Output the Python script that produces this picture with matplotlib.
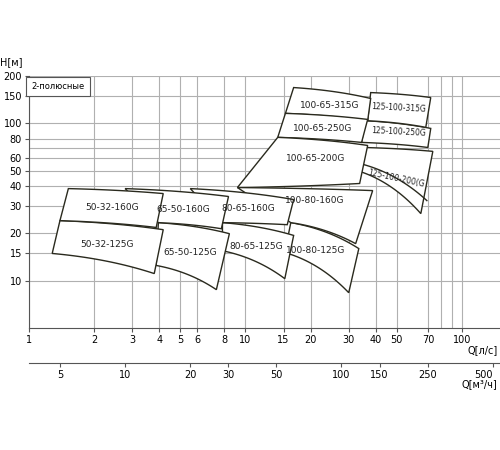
import numpy as np
import matplotlib
matplotlib.use("Agg")
import matplotlib.pyplot as plt
from matplotlib.patches import Polygon

plt.rcParams['font.family'] = ['DejaVu Sans']

# Tiles: name, TL, TR, BR, BL in (Q l/s, H m)
tiles = [
    ("50-32-160G", (1.52, 38.5), (4.17, 35.8), (3.87, 21.8), (1.39, 24.1)),
    ("50-32-125G", (1.39, 24.1), (4.17, 21.1), (3.79, 11.1), (1.28, 14.9)),
    ("65-50-160G", (2.78, 38.5), (8.35, 34.3), (7.74, 21.4), (3.96, 23.4)),
    ("65-50-125G", (3.96, 23.4), (8.43, 19.9), (7.34, 8.77), (3.87, 12.5)),
    ("80-65-160G", (5.56, 38.5), (16.7, 32.8), (15.6, 22.7), (7.83, 23.4)),
    ("80-65-125G", (7.83, 23.4), (16.7, 19.4), (15.2, 10.3), (7.83, 15.5)),
    ("100-80-160G", (9.18, 39.1), (38.7, 37.4), (32.3, 17.2), (16.2, 23.4)),
    ("100-80-125G", (16.2, 23.4), (33.4, 16.0), (30.0, 8.39), (15.2, 15.1)),
    ("100-65-200G", (14.1, 81.5), (36.7, 72.4), (33.7, 41.5), (9.18, 39.1)),
    ("100-65-250G", (15.3, 115.8), (36.7, 106), (34.4, 75.7), (14.1, 81.5)),
    ("100-65-315G", (16.7, 169), (37.9, 144), (36.7, 104), (15.3, 115.8)),
    ("125-100-315G", (37.9, 157), (71.8, 146), (68.1, 94.4), (36.7, 104)),
    ("125-100-250G", (35.9, 104), (71.8, 92.9), (69.6, 70.3), (34.4, 75.7)),
    ("125-100-200(G", (34.8, 70.3), (73.4, 66.4), (64.6, 26.7), (33.0, 50.0)),
]
label_pos = {"125-100-200(G": (49.5, 44.6, -12), "125-100-315G": (51, 125, -3),
             "125-100-250G": (51, 88, -3), "100-80-160G": (21, 32.3, 0),
             "100-65-200G": (21, 59.8, 0), "100-80-125G": (21, 15.5, 0)}
inner_curve = [(33.7, 55.6), (68.9, 32.3)]

yticks = [10, 15, 20, 30, 40, 50, 60, 80, 100, 150, 200]
ygrid = [10, 15, 20, 30, 40, 50, 60, 70, 80, 100, 150, 200]
xticks = [1, 2, 3, 4, 5, 6, 8, 10, 15, 20, 30, 40, 50, 70, 100]
xgrid = [1, 2, 3, 4, 5, 6, 8, 10, 15, 20, 30, 40, 50, 70, 80, 90, 100]
m3h_ticks = [5, 10, 20, 30, 50, 100, 150, 250, 500]

def edge(p0, p1, n=30):
    a = np.log10(p0); b = np.log10(p1)
    c = np.array([a[0] + 0.55 * (b[0] - a[0]), a[1] + 0.25 * (b[1] - a[1])])
    t = np.linspace(0, 1, n)[:, None]
    pts = (1 - t) ** 2 * a + 2 * (1 - t) * t * c + t ** 2 * b
    return 10 ** pts

fig = plt.figure(figsize=(5, 4.5), dpi=100)
ax = fig.add_axes([0.058, 0.271, 0.942, 0.56])
ax.set_xscale('log'); ax.set_yscale('log')
ax.set_xlim(1, 150); ax.set_ylim(5, 200)
for g in xgrid:
    ax.axvline(g, color='#b0b0b0', lw=0.8, zorder=0)
for g in ygrid:
    ax.axhline(g, color='#b0b0b0', lw=0.8, zorder=0)
ax.set_xticks(xticks); ax.set_xticklabels([str(v) for v in xticks], fontsize=7)
ax.set_yticks(yticks); ax.set_yticklabels([str(v) for v in yticks], fontsize=7)
ax.minorticks_off()
ax.tick_params(length=3, pad=2, color='#555')
for s in ['top', 'right']:
    ax.spines[s].set_visible(False)
for s in ['left', 'bottom']:
    ax.spines[s].set_color('#555')

for i, (name, tl, tr, br, bl) in enumerate(reversed(tiles)):
    top = edge(tl, tr)
    bot = edge(bl, br)[::-1]
    poly = np.vstack([top, bot])
    ax.add_patch(Polygon(poly, closed=True, facecolor='white', edgecolor='#2a2a1e',
                         lw=1.0, zorder=2 + i))
    if name in label_pos:
        lx, ly, rot = label_pos[name]
    else:
        pts = np.log10(np.array([tl, tr, br, bl]))
        lx, ly = 10 ** pts.mean(axis=0); rot = 0
    fs = 5.5 if name.startswith("125") else 6.5
    ax.text(lx, ly, name, ha='center', va='center', fontsize=fs, rotation=rot,
            color='#222', zorder=40)
    if name.startswith("125-100-200"):
        c = edge(*inner_curve)
        ax.plot(c[:, 0], c[:, 1], color='#2a2a1e', lw=1.0, zorder=2 + i)

ax.text(0.005, 0.975, "2-полюсные", transform=ax.transAxes, fontsize=6, va='top',
        bbox=dict(boxstyle='square,pad=0.6', fc='white', ec='#555', lw=0.8), zorder=50)

sec = ax.secondary_xaxis(-0.138, functions=(lambda q: q * 3.6, lambda m: m / 3.6))
sec.set_xticks(m3h_ticks); sec.set_xticklabels([str(v) for v in m3h_ticks], fontsize=7)
sec.minorticks_off()
sec.tick_params(length=3, pad=2, color='#555')
sec.spines['bottom'].set_color('#555')
sec.get_xticklabels()[-1].set_horizontalalignment('right')

fig.text(0.0, 0.855, "H[м]", fontsize=7)
fig.text(0.995, 0.215, "Q[л/с]", fontsize=7, ha='right')
fig.text(0.995, 0.14, "Q[м³/ч]", fontsize=7, ha='right')

fig.savefig("out.png", dpi=100)
